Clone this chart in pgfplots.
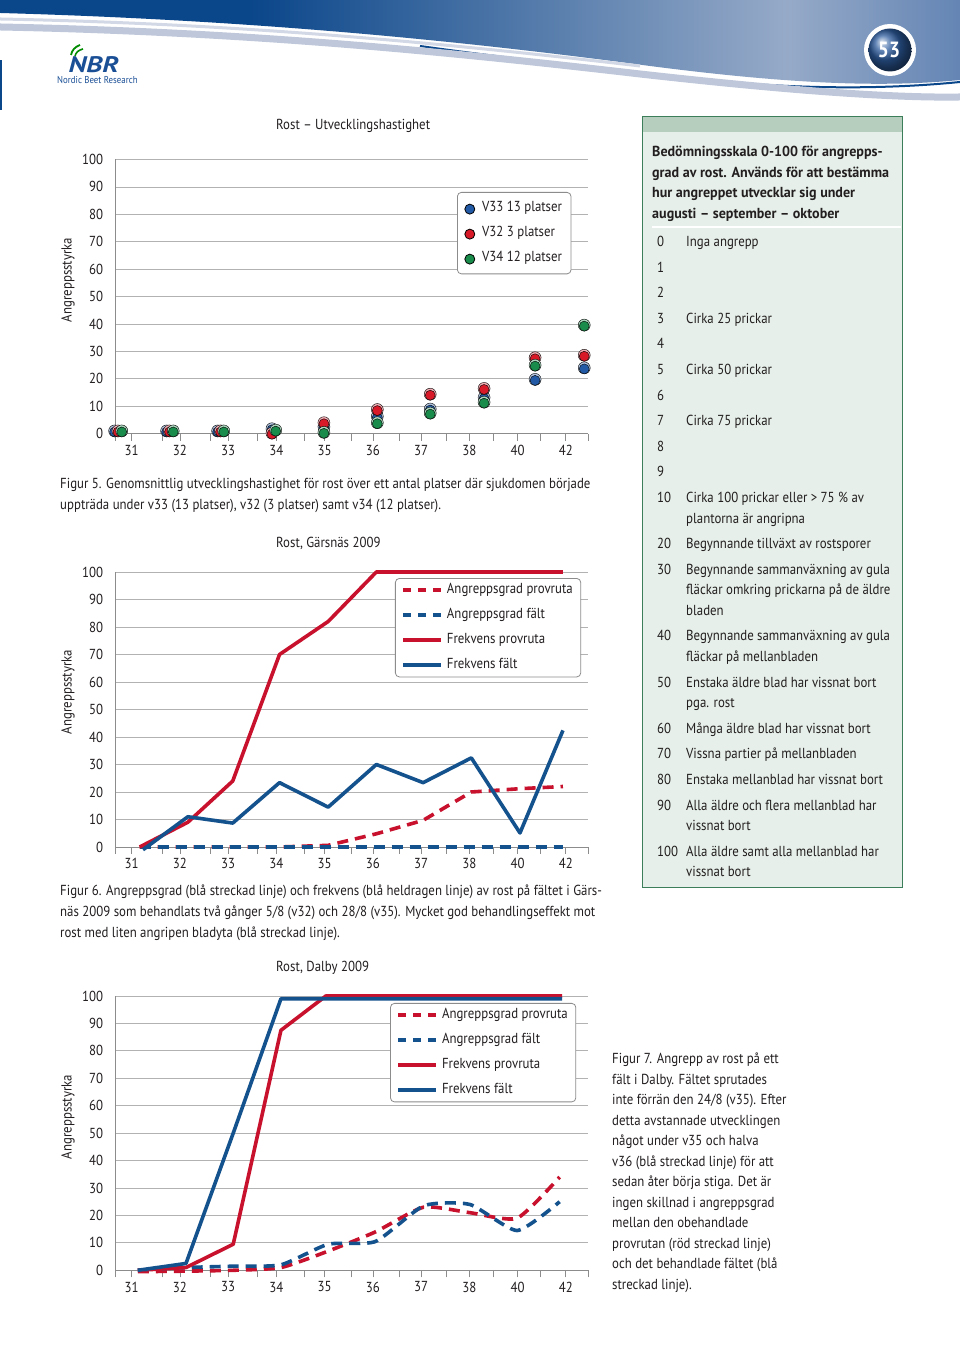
\documentclass[border=0pt]{standalone}
\usepackage{fontspec}
\setmainfont[FakeStretch=0.885]{PT Sans}
\newfontfamily\logofont[FakeStretch=1.25]{PT Sans}
\newfontfamily\boxbold[FakeStretch=0.97]{PT Sans}
\usepackage{pgfplots}
\pgfplotsset{compat=1.18}
\definecolor{cred}{RGB}{200,18,45}
\definecolor{cblue}{RGB}{20,82,142}
\definecolor{bgreen}{RGB}{25,140,75}
\definecolor{bblue}{RGB}{35,90,165}
\definecolor{bred}{RGB}{215,25,40}
\definecolor{gridc}{RGB}{178,178,178}
\definecolor{axc}{RGB}{140,140,140}
\definecolor{boxfill}{RGB}{230,239,233}
\definecolor{boxhead}{RGB}{182,206,190}
\definecolor{boxborder}{RGB}{60,125,90}
\definecolor{hdark}{RGB}{10,70,138}
\definecolor{hlight}{RGB}{150,170,200}
\definecolor{hright}{RGB}{45,92,158}
\definecolor{swoosh}{RGB}{190,200,218}
\definecolor{logoblue}{RGB}{26,79,150}
\definecolor{txt}{RGB}{35,31,32}
\newcommand\fs{\fontsize{14.5}{18}\selectfont}
\pgfdeclarehorizontalshading{banner}{100bp}{color(0bp)=(hdark); color(38bp)=(hdark); color(66bp)=(hlight); color(85bp)=(hright); color(100bp)=(hright)}
\pgfplotsset{
  rost/.style={
    scale only axis, width=472.4pt,
    xmin=0, xmax=10, ymin=0, ymax=100, clip=false,
    axis x line*=bottom, axis y line*=left,
    axis line style={draw=axc, line width=0.8pt},
    xtick={0,...,10}, xticklabels={},
    extra x ticks={0.341,1.362,2.383,3.405,4.426,5.447,6.468,7.489,8.511,9.532},
    extra x tick labels={31,32,33,34,35,36,37,38,40,42},
    extra x tick style={tick style={draw=none}},
    xtick style={draw=axc, line width=0.8pt},
    tick align=outside, major tick length=7pt,
    ytick={0,10,...,100}, ytick style={draw=none},
    ymajorgrids, grid style={draw=gridc, line width=0.8pt},
    tick label style={font=\fs, text=txt},
    /pgf/number format/assume math mode=true,
    yticklabel style={xshift=-2pt},
    xticklabel style={yshift=-1pt},
    legend cell align=left,
    legend style={draw=axc, rounded corners=4pt, font=\fs, text=txt, fill=white,
      line width=0.8pt, anchor=north west, inner xsep=6pt, inner ysep=3pt, row sep=7.5pt,
      nodes={text height=10.5pt, text depth=3pt, inner sep=2pt}},
  },
  lineleg/.style={legend image code/.code={\draw[##1] (0pt,0pt) -- (38pt,0pt); \path (0pt,0pt) (40pt,0pt);}},
  dashleg/.style={legend image code/.code={\draw[##1, dash pattern=on 8pt off 7pt] (0pt,0pt) -- (38pt,0pt); \path (0pt,0pt) (40pt,0pt);}},
  rs/.style={cred, line width=3.6pt, line join=round},
  bs/.style={cblue, line width=3.6pt, line join=round},
  rd/.style={cred, line width=3.6pt, dash pattern=on 11pt off 7pt, dashleg},
  bd/.style={cblue, line width=3.6pt, dash pattern=on 11pt off 7pt, dashleg},
  ballL/.style={only marks, mark=*, mark size=6pt, mark options={draw=none, fill=#1!35!white}, forget plot},
  ballD/.style={only marks, mark=*, mark size=5pt, mark options={draw=none, fill=#1, yshift=-1pt}},
}
\begin{document}
\begin{tikzpicture}[x=1pt,y=1pt]
\useasboundingbox (0,0) rectangle (960,1367);
\fill[white] (0,0) rectangle (960,1367);

% ---------------- page decoration and text (image coordinates) -------------
\begin{scope}[shift={(0,1367)}, yscale=-1]
  % header banner
  \shade[shading=banner] (0,0) -- (960,0) -- (960,80) .. controls (880,88) and (780,84) .. (620,62)
        .. controls (450,40) and (250,20) .. (0,13) -- cycle;
  \draw[hdark, line width=2pt] (420,46) .. controls (520,60) and (600,68) .. (660,75) .. controls (780,90) and (880,90) .. (960,82);
  \draw[swoosh, line width=7pt] (0,27) .. controls (250,32) and (450,52) .. (640,74) .. controls (800,92) and (900,98) .. (960,97);
  \draw[swoosh!70!white, line width=3pt] (0,19) .. controls (250,24) and (450,44) .. (640,66);
  \fill[hdark] (0,60) rectangle (2,110);
  % page number
  \fill[white] (890,50) circle (26);
  \shade[ball color=hright] (890,50) circle (21.5);
  \node[font=\fontsize{22}{22}\bfseries, text=white] at (889,50) {53};
  % logo
  \draw[green!55!black, line width=1.8pt] (71,55) .. controls (72,50) and (75,47) .. (80,45);
  \draw[green!55!black, line width=1.6pt] (75,56) .. controls (76,52) and (79,50) .. (83,49);
  \node[anchor=base west, font=\logofont\fontsize{22.5}{22}\bfseries\itshape, text=logoblue] at (65,73) {NBR};
  \node[anchor=base west, font=\fontsize{10}{10}\selectfont, text=logoblue, inner sep=0pt] at (57,84) {Nordic Beet Research};

  % chart titles and axis labels
  \node[anchor=base west, font=\fs, text=txt, inner sep=0pt] at (276,130) {Rost – Utvecklingshastighet};
  \node[anchor=base west, font=\fs, text=txt, inner sep=0pt] at (276,548) {Rost, Gärsnäs 2009};
  \node[anchor=base west, font=\fs, text=txt, inner sep=0pt] at (276,972) {Rost, Dalby 2009};
  \node[rotate=90, font=\fs, text=txt] at (68,280) {Angreppsstyrka};
  \node[rotate=90, font=\fs, text=txt] at (68,692) {Angreppsstyrka};
  \node[rotate=90, font=\fs, text=txt] at (68,1117) {Angreppsstyrka};

  % captions
  \begin{scope}[every node/.style={anchor=base west, font=\fs, text=txt, inner sep=0pt}]
  \node at (60,489) {Figur 5. Genomsnittlig utvecklingshastighet för rost över ett antal platser där sjukdomen började};
  \node at (60,510) {uppträda under v33 (13 platser), v32 (3 platser) samt v34 (12 platser).};
  \node at (60,896) {Figur 6. Angreppsgrad (blå streckad linje) och frekvens (blå heldragen linje) av rost på fältet i Gärs-};
  \node at (60,917) {näs 2009 som behandlats två gånger 5/8 (v32) och 28/8 (v35). Mycket god behandlingseffekt mot};
  \node at (60,938) {rost med liten angripen bladyta (blå streckad linje).};
  \node at (612,1064) {Figur 7. Angrepp av rost på ett};
  \node at (612,1084.5) {fält i Dalby. Fältet sprutades};
  \node at (612,1105) {inte förrän den 24/8 (v35). Efter};
  \node at (612,1125.5) {detta avstannade utvecklingen};
  \node at (612,1146) {något under v35 och halva};
  \node at (612,1166.5) {v36 (blå streckad linje) för att};
  \node at (612,1187) {sedan åter börja stiga. Det är};
  \node at (612,1207.5) {ingen skillnad i angreppsgrad};
  \node at (612,1228) {mellan den obehandlade};
  \node at (612,1248.5) {provrutan (röd streckad linje)};
  \node at (612,1269) {och det behandlade fältet (blå};
  \node at (612,1289.5) {streckad linje).};
  \end{scope}

  % scale box
  \fill[boxfill] (642,117) rectangle (902,888);
  \fill[boxhead] (642,117) rectangle (902,132);
  \draw[boxborder, line width=1pt] (642,117) rectangle (902,888);
  \draw[white, line width=1.5pt] (652,227) -- (901,227);
  \begin{scope}[every node/.style={anchor=base west, font=\fs, text=txt, inner sep=0pt}]
  \node[font=\boxbold\fs\bfseries] at (652,157) {Bedömningsskala 0-100 för angrepps-};
  \node[font=\boxbold\fs\bfseries] at (652,177.5) {grad av rost. Används för att bestämma};
  \node[font=\boxbold\fs\bfseries] at (652,198) {hur angreppet utvecklar sig under};
  \node[font=\boxbold\fs\bfseries] at (652,218.5) {augusti – september – oktober};
  \node at (657,247) {0};   \node at (686,247) {Inga angrepp};
  \node at (657,273) {1};
  \node at (657,298) {2};
  \node at (657,324) {3};   \node at (686,324) {Cirka 25 prickar};
  \node at (657,349) {4};
  \node at (657,375) {5};   \node at (686,375) {Cirka 50 prickar};
  \node at (657,401) {6};
  \node at (657,426) {7};   \node at (686,426) {Cirka 75 prickar};
  \node at (657,452) {8};
  \node at (657,477) {9};
  \node at (657,503) {10};  \node at (686,503) {Cirka 100 prickar eller > 75 \% av};
                            \node at (686,524) {plantorna är angripna};
  \node at (657,549) {20};  \node at (686,549) {Begynnande tillväxt av rostsporer};
  \node at (657,575) {30};  \node at (686,575) {Begynnande sammanväxning av gula};
                            \node at (686,595) {fläckar omkring prickarna på de äldre};
                            \node at (686,616) {bladen};
  \node at (657,641) {40};  \node at (686,641) {Begynnande sammanväxning av gula};
                            \node at (686,662) {fläckar på mellanbladen};
  \node at (657,688) {50};  \node at (686,688) {Enstaka äldre blad har vissnat bort};
                            \node at (686,708) {pga. rost};
  \node at (657,734) {60};  \node at (686,734) {Många äldre blad har vissnat bort};
  \node at (657,759) {70};  \node at (686,759) {Vissna partier på mellanbladen};
  \node at (657,785) {80};  \node at (686,785) {Enstaka mellanblad har vissnat bort};
  \node at (657,811) {90};  \node at (686,811) {Alla äldre och flera mellanblad har};
                            \node at (686,831) {vissnat bort};
  \node at (657,857) {100}; \node at (686,857) {Alla äldre samt alla mellanblad har};
                            \node at (686,877) {vissnat bort};
  \end{scope}
\end{scope}

% ---------------- Figure 5 ----------------
\begin{axis}[rost, at={(115.6pt,933.3pt)}, anchor=south west, height=274.2pt,
  legend style={at={(0.7227,0.8815)}, inner ysep=7pt, inner xsep=7pt},
  legend image code/.code={\draw[#1] plot coordinates {(5pt,0pt)}; \path (0pt,0pt) (15pt,0pt);}]
\addplot[ballL=bblue] coordinates {(-0.02,1) (1.08,1) (2.16,1) (3.31,1.8) (4.41,2.5) (5.54,6.3) (6.66,9) (7.8,13.2) (8.88,19.8) (9.92,24)};
\addplot[ballD=bblue] coordinates {(-0.02,1) (1.08,1) (2.16,1) (3.31,1.8) (4.41,2.5) (5.54,6.3) (6.66,9) (7.8,13.2) (8.88,19.8) (9.92,24)};
\addlegendentry{V33 13 platser}
\addplot[ballL=bred] coordinates {(0.05,1) (1.14,1) (2.22,1) (3.31,0.2) (4.41,4) (5.54,8.8) (6.66,14.4) (7.8,16.5) (8.88,27.7) (9.92,28.6)};
\addplot[ballD=bred] coordinates {(0.05,1) (1.14,1) (2.22,1) (3.31,0.2) (4.41,4) (5.54,8.8) (6.66,14.4) (7.8,16.5) (8.88,27.7) (9.92,28.6)};
\addlegendentry{V32 3 platser}
\addplot[ballL=bgreen] coordinates {(0.13,1) (1.22,1) (2.29,1) (3.39,1.3) (4.41,0.5) (5.54,4) (6.66,7.5) (7.8,11.5) (8.88,25) (9.92,39.6)};
\addplot[ballD=bgreen] coordinates {(0.13,1) (1.22,1) (2.29,1) (3.39,1.3) (4.41,0.5) (5.54,4) (6.66,7.5) (7.8,11.5) (8.88,25) (9.92,39.6)};
\addlegendentry{V34 12 platser}
\end{axis}

% ---------------- Figure 6 ----------------
\begin{axis}[rost, at={(115.6pt,520pt)}, anchor=south west, height=275pt, lineleg,
  legend style={at={(0.5914,0.978)}}]
\addplot[rd] coordinates {(0.51,0) (1.53,0) (2.48,0) (3.47,0) (4.5,0.6) (5.52,4.8) (6.51,9.7) (7.53,20) (8.56,21.2) (9.47,22)};
\addlegendentry{Angreppsgrad provruta\hspace{3pt}}
\addplot[bd] coordinates {(0.51,0) (1.53,0) (2.48,0) (3.47,0) (4.5,0) (5.52,0) (6.51,0) (7.53,0) (8.56,0) (9.47,0)};
\addlegendentry{Angreppsgrad fält}
\addplot[rs] coordinates {(0.51,0) (1.53,9) (2.48,24) (3.47,70) (4.5,82) (5.52,100) (6.51,100) (7.53,100) (8.56,100) (9.47,100)};
\addlegendentry{Frekvens provruta}
\addplot[bs] coordinates {(0.58,-1) (1.53,11) (2.48,8.7) (3.47,23.4) (4.5,14.5) (5.52,30) (6.51,23.4) (7.53,32.4) (8.56,5.1) (9.47,42.4)};
\addlegendentry{Frekvens fält}
\end{axis}

% ---------------- Figure 7 ----------------
\begin{axis}[rost, at={(115.6pt,96.7pt)}, anchor=south west, height=274.3pt, lineleg,
  legend style={at={(0.581,0.9745)}}]
\addplot[rd, smooth, tension=0.35] coordinates {(0.47,-0.5) (1.49,-0.3) (2.49,0) (3.5,1) (4.5,7) (5.5,14) (6.52,23) (7.5,21) (8.5,19) (9.4,34)};
\addlegendentry{Angreppsgrad provruta\hspace{3pt}}
\addplot[bd, smooth, tension=0.35] coordinates {(0.47,0) (1.49,1) (2.49,1.5) (3.5,2) (4.5,9.5) (5.5,10.5) (6.52,23.5) (7.5,24) (8.5,14.5) (9.4,25)};
\addlegendentry{Angreppsgrad fält}
\addplot[rs] coordinates {(0.47,0) (1.49,1) (2.49,9.5) (3.5,87.5) (4.45,100) (5.5,100) (6.52,100) (7.5,100) (8.5,100) (9.45,100)};
\addlegendentry{Frekvens provruta}
\addplot[bs] coordinates {(0.47,0) (1.49,2.5) (2.49,50) (3.5,99) (4.45,99) (5.5,99) (6.52,99) (7.5,99) (8.5,99) (9.45,99)};
\addlegendentry{Frekvens fält}
\end{axis}
\end{tikzpicture}
\end{document}
